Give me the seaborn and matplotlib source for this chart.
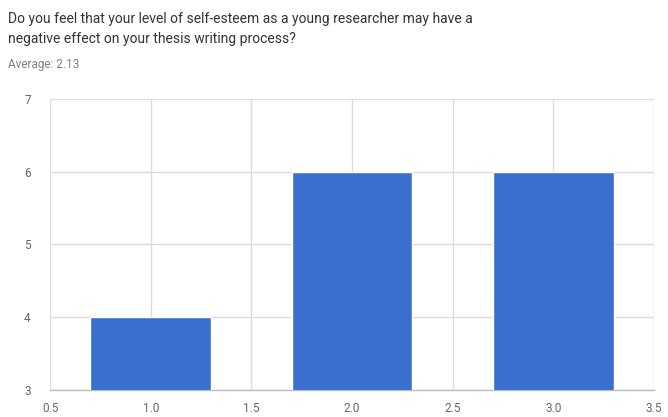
import matplotlib
matplotlib.use("Agg")
import matplotlib.pyplot as plt
import seaborn as sns
import pandas as pd

# Responses per rating
ratings = [1, 2, 3]
counts = [4, 6, 6]
x_ticks = [0.5, 1.0, 1.5, 2.0, 2.5, 3.0, 3.5]
y_ticks = [3, 4, 5, 6, 7]

title = ("Do you feel that your level of self-esteem as a young researcher may have a\n"
         "negative effect on your thesis writing process?")
subtitle = "Average: 2.13"

bar_color = "#3a6fd0"
grid_color = "#dcdcdc"
label_color = "#666666"

sns.set_theme(style="white")
plt.rcParams["font.family"] = ["Roboto", "DejaVu Sans"]

df = pd.DataFrame({"rating": ratings, "count": counts})

fig = plt.figure(figsize=(6.68, 4.17), dpi=100)
ax = fig.add_axes([0.075, 0.065, 0.904, 0.698])

sns.barplot(data=df, x="rating", y="count", native_scale=True, width=0.6,
            color=bar_color, saturation=1, ax=ax, zorder=3)

ax.set_xlim(0.5, 3.5)
ax.set_ylim(3, 7)
ax.set_xticks(x_ticks)
ax.set_xticklabels([f"{t:.1f}" for t in x_ticks])
ax.set_yticks(y_ticks)
ax.set_xlabel("")
ax.set_ylabel("")

ax.grid(True, color=grid_color, linewidth=1, zorder=0)
ax.set_axisbelow(True)
for side in ["top", "right", "left"]:
    ax.spines[side].set_visible(False)
ax.spines["bottom"].set_color("#bdbdbd")
ax.spines["bottom"].set_linewidth(1)
ax.tick_params(axis="x", length=0, labelsize=8.5, colors=label_color, pad=9)
ax.tick_params(axis="y", length=0, labelsize=8.5, colors=label_color, pad=14)

fig.text(0.012, 0.972, title, ha="left", va="top", fontsize=10,
         color="#333333", linespacing=1.55)
fig.text(0.012, 0.862, subtitle, ha="left", va="top", fontsize=8.5,
         color="#808080")

fig.savefig("out.png", dpi=100)
